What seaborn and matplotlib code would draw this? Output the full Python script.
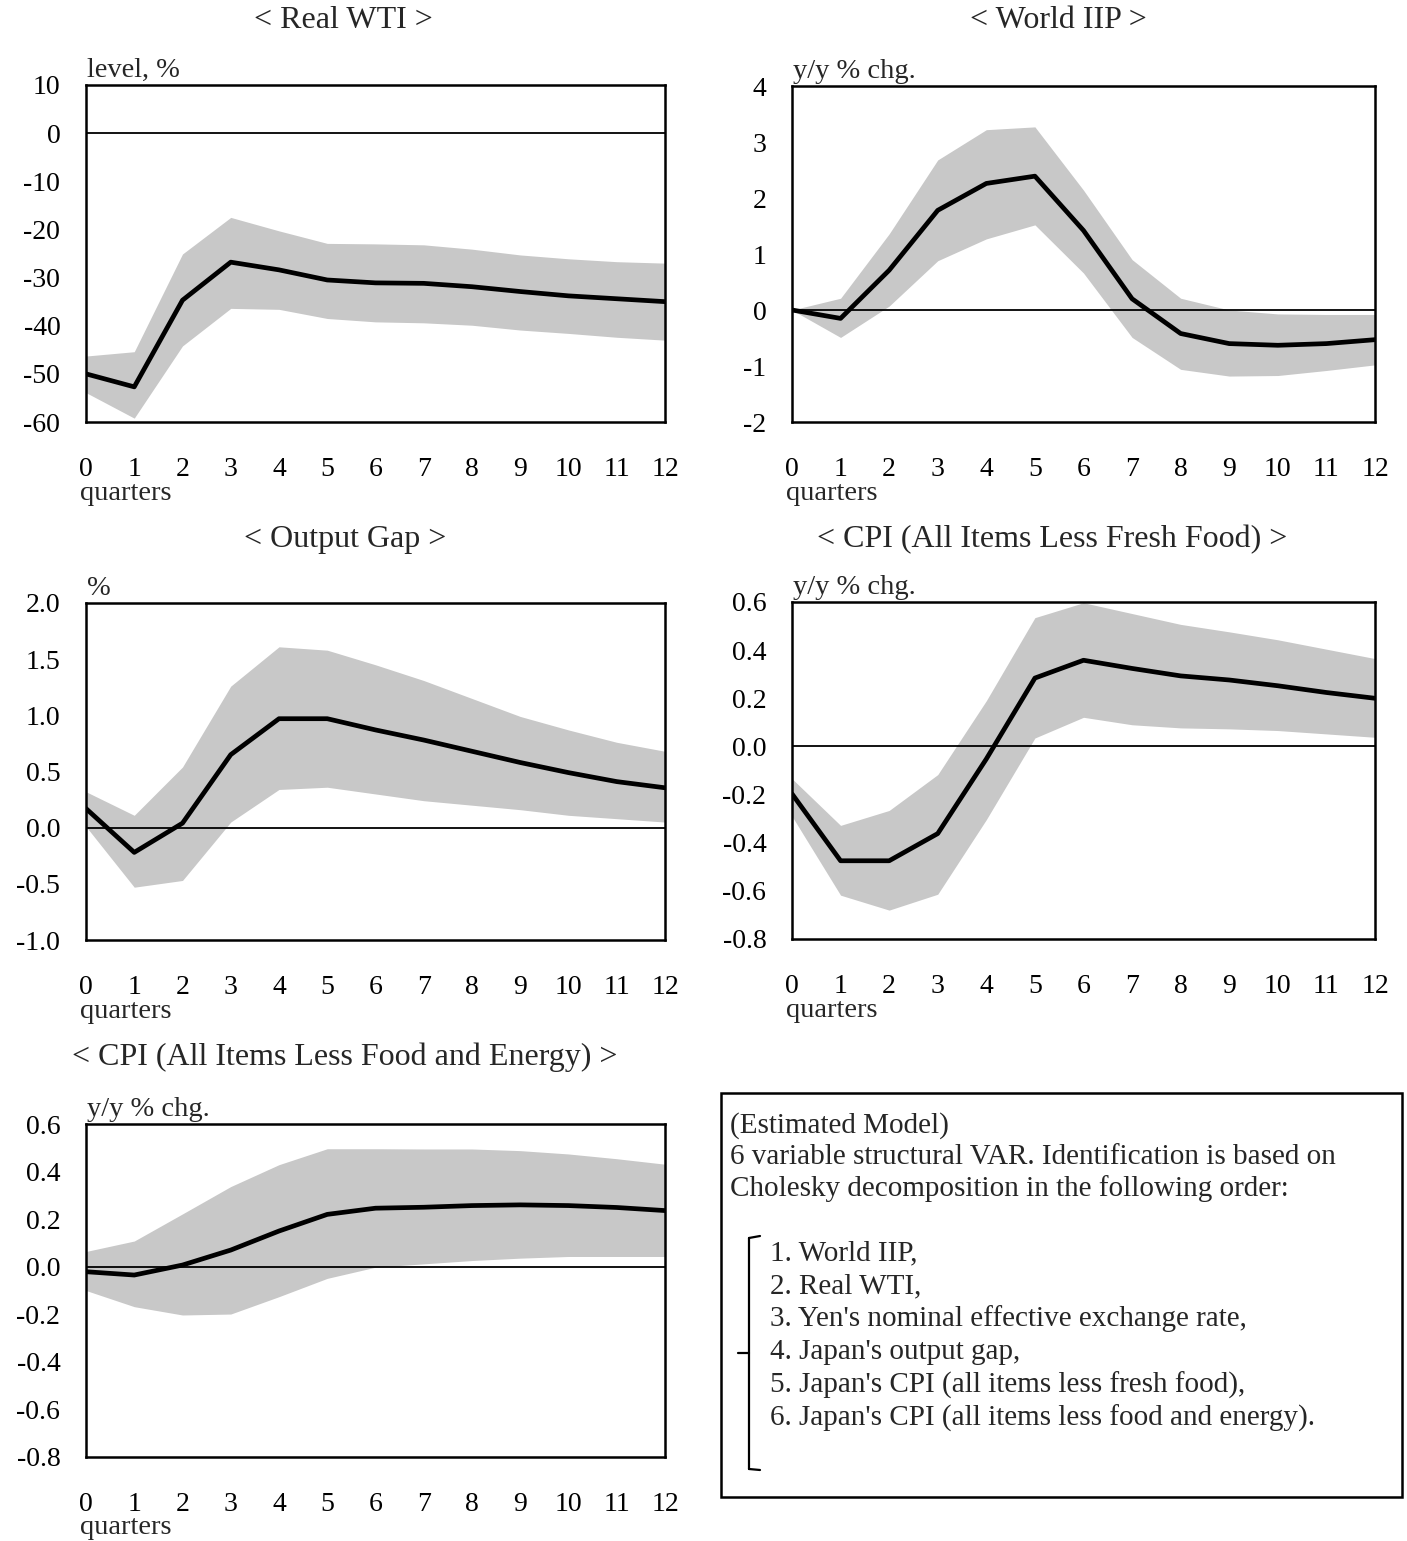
import numpy as np
import pandas as pd
import seaborn as sns
import matplotlib.pyplot as plt
from matplotlib.patches import Rectangle
from matplotlib.lines import Line2D

quarters = list(range(13))

wti_mid = [-50.0, -52.7, -34.7, -26.8, -28.4, -30.5, -31.1, -31.2, -31.9, -32.9, -33.8, -34.4, -35.0]
wti_hi = [-46.3, -45.4, -25.1, -17.5, -20.3, -22.9, -23.0, -23.2, -24.1, -25.3, -26.1, -26.7, -27.0]
wti_lo = [-53.9, -59.2, -44.2, -36.4, -36.6, -38.5, -39.2, -39.4, -39.9, -40.9, -41.6, -42.4, -43.0]

iip_mid = [0.0, -0.15, 0.71, 1.78, 2.26, 2.39, 1.42, 0.20, -0.42, -0.60, -0.63, -0.60, -0.53]
iip_hi = [0.0, 0.21, 1.36, 2.68, 3.22, 3.27, 2.14, 0.90, 0.21, 0.0, -0.07, -0.08, -0.08]
iip_lo = [0.0, -0.49, 0.07, 0.88, 1.27, 1.52, 0.66, -0.49, -1.06, -1.18, -1.17, -1.08, -0.98]

gap_mid = [0.17, -0.22, 0.04, 0.65, 0.97, 0.97, 0.87, 0.78, 0.68, 0.58, 0.49, 0.41, 0.355]
gap_hi = [0.32, 0.11, 0.54, 1.26, 1.61, 1.58, 1.45, 1.31, 1.15, 0.99, 0.87, 0.76, 0.68]
gap_lo = [0.01, -0.53, -0.47, 0.05, 0.34, 0.36, 0.30, 0.24, 0.20, 0.16, 0.11, 0.08, 0.05]

core_mid = [-0.197, -0.475, -0.475, -0.362, -0.052, 0.284, 0.358, 0.324, 0.293, 0.276, 0.252, 0.224, 0.20]
core_hi = [-0.134, -0.328, -0.266, -0.117, 0.19, 0.535, 0.597, 0.552, 0.507, 0.476, 0.443, 0.404, 0.365]
core_lo = [-0.29, -0.618, -0.68, -0.614, -0.304, 0.035, 0.121, 0.09, 0.077, 0.073, 0.066, 0.052, 0.038]

cc_mid = [-0.021, -0.035, 0.007, 0.07, 0.15, 0.22, 0.246, 0.25, 0.257, 0.26, 0.257, 0.249, 0.236]
cc_hi = [0.064, 0.108, 0.222, 0.337, 0.429, 0.496, 0.496, 0.495, 0.495, 0.488, 0.474, 0.454, 0.431]
cc_lo = [-0.10, -0.168, -0.203, -0.199, -0.126, -0.049, -0.002, 0.012, 0.026, 0.036, 0.043, 0.043, 0.043]

wti_ticks = [-60, -50, -40, -30, -20, -10, 0, 10]
iip_ticks = [-2, -1, 0, 1, 2, 3, 4]
gap_ticks = [-1.0, -0.5, 0.0, 0.5, 1.0, 1.5, 2.0]
cpi_ticks = [-0.8, -0.6, -0.4, -0.2, 0.0, 0.2, 0.4, 0.6]

titles = ["< Real WTI >", "< World IIP >", "< Output Gap >",
          "< CPI (All Items Less Fresh Food) >", "< CPI (All Items Less Food and Energy) >"]
units = ["level, %", "y/y % chg.", "%", "y/y % chg.", "y/y % chg."]

box_lines = ["(Estimated Model)",
             "6 variable structural VAR. Identification is based on",
             "Cholesky decomposition in the following order:"]
order_lines = ["1. World IIP,", "2. Real WTI,", "3. Yen's nominal effective exchange rate,",
               "4. Japan's output gap,", "5. Japan's CPI (all items less fresh food),",
               "6. Japan's CPI (all items less food and energy)."]

sns.set_theme(style="white")
plt.rcParams['font.family'] = ['Liberation Serif', 'DejaVu Serif']
plt.rcParams['axes.unicode_minus'] = False

W, H = 1407, 1541
fig = plt.figure(figsize=(W / 100, H / 100), dpi=100)

def fx(px):
    return px / W

def fy(px):
    return 1 - px / H

# (left, right, top, bottom) in pixels, y ticks, format, title x, title y
panels = [
    (86, 665, 85, 422, wti_ticks, '%d', 343, 20, wti_mid, wti_hi, wti_lo),
    (792, 1375, 86, 422, iip_ticks, '%d', 1058, 20, iip_mid, iip_hi, iip_lo),
    (86, 665, 603, 940, gap_ticks, '%.1f', 345, 540, gap_mid, gap_hi, gap_lo),
    (792, 1375, 602, 939, cpi_ticks, '%.1f', 1052, 540, core_mid, core_hi, core_lo),
    (86, 665, 1124, 1457, cpi_ticks, '%.1f', 345, 1057, cc_mid, cc_hi, cc_lo),
]

for i, (l, r, t, b, yt, fmt, tx, ty, mid, hi, lo) in enumerate(panels):
    ax = fig.add_axes([fx(l), fy(b), fx(r) - fx(l), fy(t) - fy(b)])
    ax.fill_between(quarters, lo, hi, color='#c8c8c8', linewidth=0, zorder=1)
    ax.axhline(0, color='black', linewidth=1.3, zorder=2)
    df = pd.DataFrame({'quarter': quarters, 'value': mid})
    sns.lineplot(data=df, x='quarter', y='value', ax=ax, color='black', linewidth=3.4, zorder=3)
    ax.set_xlim(0, 12)
    ax.set_ylim(yt[0], yt[-1])
    ax.set_yticks(yt)
    ax.set_yticklabels([fmt % v for v in yt])
    ax.set_xticks(quarters)
    ax.set_xticklabels([str(q) for q in quarters])
    ax.set_xlabel('')
    ax.set_ylabel('')
    for s in ax.spines.values():
        s.set_color('black')
        s.set_linewidth(1.8)
    ax.tick_params(axis='x', direction='in', length=7, width=1.5, pad=25, labelsize=20, colors='black')
    ax.tick_params(axis='y', direction='out', length=6.5, width=1.5, pad=12, labelsize=20, colors='black')
    ax.text(0.002, 1.023, units[i], transform=ax.transAxes, ha='left', va='baseline', fontsize=20.5)
    ax.text(-0.01, -0.213, 'quarters', transform=ax.transAxes, ha='left', va='center', fontsize=20.5)
    fig.text(fx(tx), fy(ty), titles[i], ha='center', va='center', fontsize=23)

# text box
fig.patches.append(Rectangle((fx(721), fy(1497)), fx(1402) - fx(721), fy(1093) - fy(1497),
                             transform=fig.transFigure, fill=False, edgecolor='black', linewidth=1.8))
for j, s in enumerate(box_lines):
    fig.text(fx(730), fy(1126 + 31.5 * j), s, ha='left', va='center', fontsize=21)
for j, s in enumerate(order_lines):
    fig.text(fx(770), fy(1253 + 33 * j), s, ha='left', va='center', fontsize=21)

# bracket
bx = 749
for xs, ys in [([bx, bx], [1238, 1469]), ([bx, 760], [1238, 1236]), ([bx, 760], [1469, 1470]),
               ([738, bx], [1353, 1353])]:
    fig.add_artist(Line2D([fx(v) for v in xs], [fy(v) for v in ys], color='black', linewidth=1.6))

fig.savefig('out.png', dpi=100)
